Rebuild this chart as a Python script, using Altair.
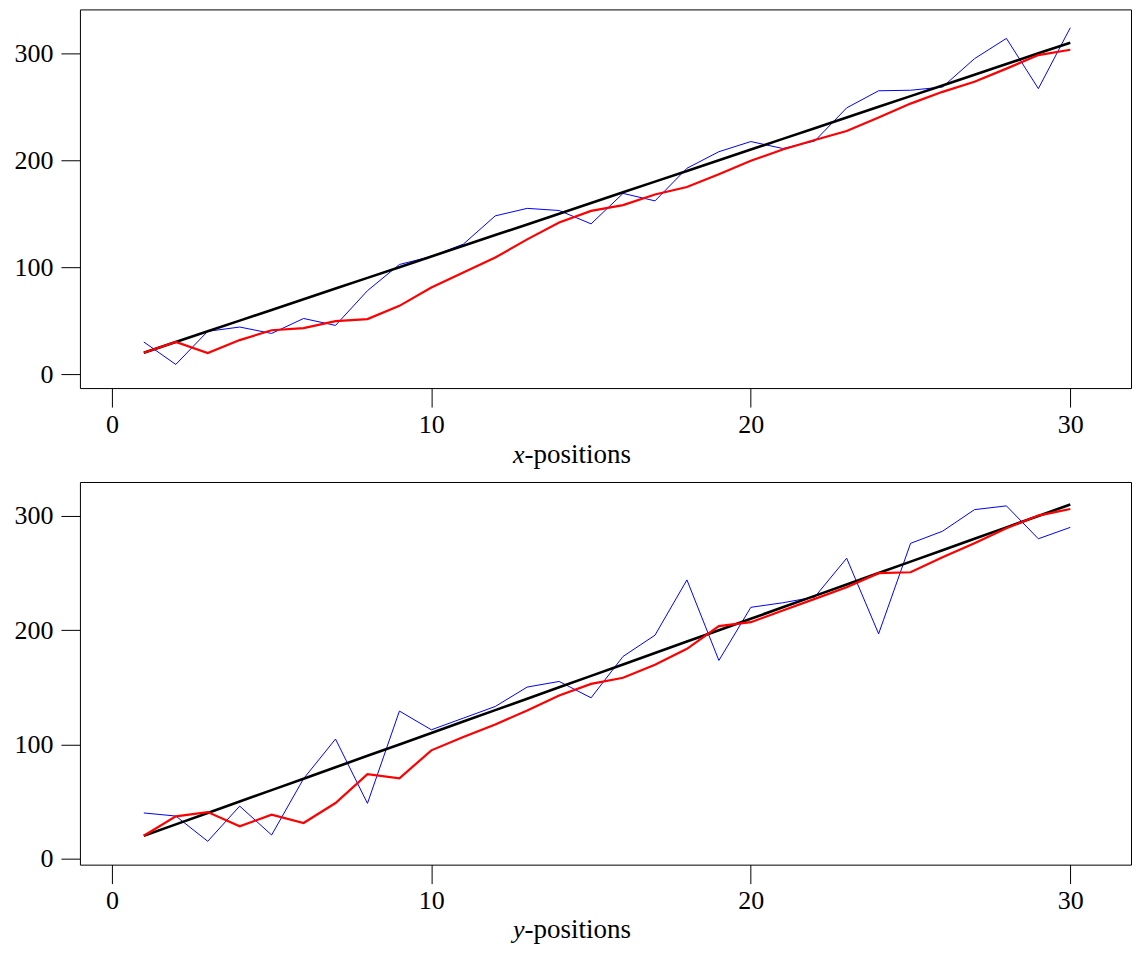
import altair as alt
import pandas as pd

# ---- data ----
steps = list(range(1, 31))
true_x = [10 * i + 10 for i in steps]
obs_x = [30, 9, 40, 44, 38, 52, 45.5, 78, 102.5, 110, 121.5, 148, 155, 153, 140.5,
         169, 162, 192.5, 208, 217.5, 211, 218, 249, 265, 265.5, 268.5, 295, 314, 267, 324]
filt_x = [20, 30, 19.6, 31.8, 41, 43, 49.5, 51.4, 63.8, 81, 95, 109, 126, 141.7, 152.6,
          158, 168, 175, 187, 199.5, 210, 219, 227.4, 240, 253, 264, 273.5, 285.7, 298.4, 303.4]

true_y = [10 * i + 10 for i in steps]
obs_y = [40, 37.3, 15.2, 46, 20.7, 70, 104.7, 48.4, 129.2, 112.8, 123, 133.2, 150.2, 155.1, 140.8,
         177, 195.6, 244, 173.5, 220, 224, 229, 263, 196.8, 276, 286.6, 305.5, 308.8, 280, 290]
filt_y = [20, 37, 40.8, 28.3, 38.5, 31.2, 48.7, 74, 70.3, 94.8, 106.4, 117.5, 129.7, 142.9, 153,
          158.3, 169.7, 183.7, 203.5, 207, 217.2, 227.4, 237.6, 249.9, 250.7, 263.9, 276.1, 289.2, 300.3, 306.1]

x_ticks = [0, 10, 20, 30]
y_ticks = [0, 100, 200, 300]

FONT = "Liberation Serif"
FS = 26
W = 1052


def panel(obs, filt, true, letter, height, ydom, title_off):
    df = pd.DataFrame({
        "t": steps * 3,
        "v": obs + true + filt,
        "s": ["obs"] * 30 + ["true"] * 30 + ["filt"] * 30,
    })
    base = alt.Chart(df).encode(
        x=alt.X("t:Q", scale=alt.Scale(domain=[-1, 31.9], nice=False, zero=False),
                axis=alt.Axis(values=x_ticks, title=None)),
        y=alt.Y("v:Q", scale=alt.Scale(domain=ydom, nice=False, zero=False),
                axis=alt.Axis(values=y_ticks, title=None)),
    )
    blue = base.transform_filter(alt.datum.s == "obs").mark_line(color="#0000ff", strokeWidth=1)
    black = base.transform_filter(alt.datum.s == "true").mark_line(color="#000000", strokeWidth=2.6)
    red = base.transform_filter(alt.datum.s == "filt").mark_line(color="#ff0000", strokeWidth=2.2)

    t1 = alt.Chart(pd.DataFrame({"lab": [letter]})).mark_text(
        font=FONT, fontSize=FS, fontStyle="italic", align="right", baseline="alphabetic", color="black"
    ).encode(x=alt.value(445), y=alt.value(height + title_off), text="lab:N")
    t2 = alt.Chart(pd.DataFrame({"lab": ["-positions"]})).mark_text(
        font=FONT, fontSize=FS + 1, align="left", baseline="alphabetic", color="black"
    ).encode(x=alt.value(445), y=alt.value(height + title_off), text="lab:N")

    return alt.layer(blue, black, red, t1, t2).properties(width=W, height=height)


top = panel(obs_x, filt_x, true_x, "x", 379, [-13.1, 341.1], 75)
bottom = panel(obs_y, filt_y, true_y, "y", 383, [-5.25, 329.7], 73)

chart = alt.vconcat(top, bottom, spacing=94, bounds="flush").properties(
    padding={"left": 5, "top": 0, "right": 0, "bottom": 0}
).configure_view(
    stroke="#000000", strokeWidth=1
).configure_axis(
    domain=False, grid=False, tickSize=19, tickColor="#000000", tickWidth=1,
    labelFont=FONT, labelFontSize=FS, labelColor="#000000", labelPadding=4
).configure_axisY(
    labelPadding=8
)

chart.save("out.html", embed_options={"renderer": "svg", "actions": False})
